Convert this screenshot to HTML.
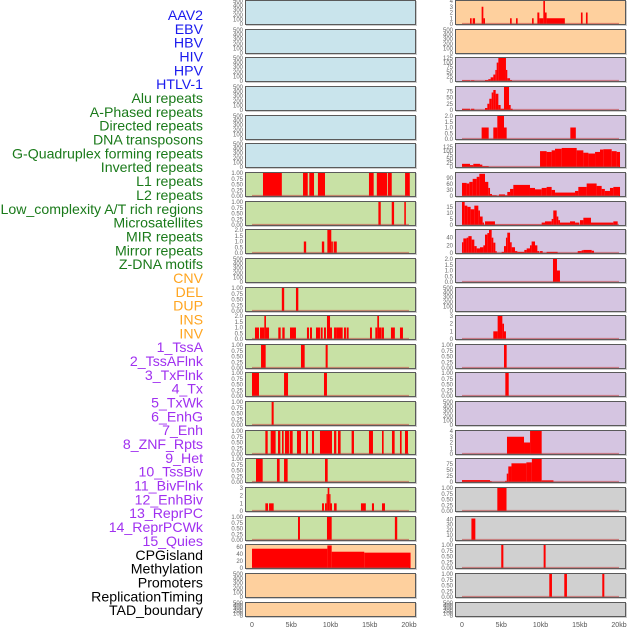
<!DOCTYPE html>
<html><head><meta charset="utf-8">
<style>
html,body{margin:0;padding:0;background:#fff;}
svg{display:block;}
.lab{font-family:"Liberation Sans",sans-serif;font-size:14.15px;text-anchor:end;}
.tk{font-family:"Liberation Sans",sans-serif;font-size:6px;fill:#666;text-anchor:end;}
.xt{font-family:"Liberation Sans",sans-serif;font-size:7px;fill:#555;text-anchor:middle;}
</style></head>
<body>
<svg id="chart" width="630" height="630" viewBox="0 0 630 630"></svg>
<script>
// ---------- data ----------
const trackNames = ["AAV2","EBV","HBV","HIV","HPV","HTLV-1","Alu repeats","A-Phased repeats","Directed repeats","DNA transposons","G-Quadruplex forming repeats","Inverted repeats","L1 repeats","L2 repeats","Low_complexity A/T rich regions","Microsatellites","MIR repeats","Mirror repeats","Z-DNA motifs","CNV","DEL","DUP","INS","INV","1_TssA","2_TssAFlnk","3_TxFlnk","4_Tx","5_TxWk","6_EnhG","7_Enh","8_ZNF_Rpts","9_Het","10_TssBiv","11_BivFlnk","12_EnhBiv","13_ReprPC","14_ReprPCWk","15_Quies","CPGisland","Methylation","Promoters","ReplicationTiming","TAD_boundary"];
const trackColors = ["#1a1aee","#1a1aee","#1a1aee","#1a1aee","#1a1aee","#1a1aee","#1a7a1a","#1a7a1a","#1a7a1a","#1a7a1a","#1a7a1a","#1a7a1a","#1a7a1a","#1a7a1a","#1a7a1a","#1a7a1a","#1a7a1a","#1a7a1a","#1a7a1a","#ffa520","#ffa520","#ffa520","#ffa520","#ffa520","#a030f0","#a030f0","#a030f0","#a030f0","#a030f0","#a030f0","#a030f0","#a030f0","#a030f0","#a030f0","#a030f0","#a030f0","#a030f0","#a030f0","#a030f0","#000","#000","#000","#000","#000"];
const xTickValues = [0,5,10,15,20];
const xTickLabels = ["0","5kb","10kb","15kb","20kb"];

// segments: [start_kb, end_kb, value]
const segEmpty = [];
const segL1 = [[1.4,3.8,1],[6.5,7.1,1],[7.3,7.9,1],[8.4,9.3,1],[14.9,15.5,1],[15.9,17.2,1],[17.3,17.8,1],[19.5,20.1,1]];
const segLowc = [[16.1,16.4,1],[17.8,18.1,1],[19.4,19.6,1]];
const segMir = [[6.6,6.9,1],[8.9,9.2,1],[9.6,10.1,2],[10.1,10.3,1],[10.4,10.8,1]];
const segZdna = [[3.8,4.1,1],[5.6,5.9,1]];
const segIns = [[0.38,0.89,1],[1.02,1.57,1],[1.57,1.78,2],[1.78,2.17,1],[3.35,3.65,1],[3.86,4.16,1],[4.84,5.6,1],[7.0,7.26,1],[7.39,7.64,1],[8.15,8.66,1],[8.75,9.0,1],[9.17,9.42,1],[9.55,9.94,2],[9.94,10.19,1],[10.45,10.78,1],[10.78,11.55,1],[11.72,11.97,1],[12.06,12.31,1],[15.03,15.28,1],[15.71,15.96,1],[15.96,16.18,2],[16.18,16.52,1],[16.56,16.81,1],[17.7,18.2,1],[18.85,19.23,1]];
const segTssA = [[1.15,1.74,1],[6.24,6.71,1],[9.38,9.64,1]];
const segTxFlnk = [[0,0.89,1],[4.08,4.59,1],[9.17,9.55,1]];
const segTxWk = [[2.5,2.76,1]];
const segEnh = [[1.7,2.0,1],[2.38,3.01,1],[3.31,3.61,1],[3.82,4.03,1],[4.2,4.71,1],[4.8,5.18,1],[5.73,6.24,1],[6.88,7.13,1],[7.64,7.9,1],[8.66,10.19,1],[10.45,10.74,1],[10.95,11.29,1],[12.69,12.99,1],[14.9,15.41,1],[16.56,16.77,1],[17.83,18.17,1],[18.85,19.06,1],[19.49,19.87,1]];
const segHet = [[0.51,1.36,1],[3.18,3.52,1],[4.08,4.54,1],[9.3,9.64,1]];
const segBivFlnk = [[1.7,2.04,1],[2.17,2.76,1],[8.92,9.17,1],[9.3,9.5,1],[9.5,9.64,2.2],[9.64,9.85,3],[9.85,10.0,2.2],[10.0,10.19,1],[10.45,10.78,1],[13.88,14.5,1],[15.28,15.54,1],[16.56,16.94,1]];
const segReprPC = [[5.86,6.11,1],[9.55,10.15,1],[18.2,18.5,1]];
const segCpg = [[0,9.6,54.5],[9.6,10.15,63.7],[10.15,14.3,46],[14.3,20.2,43.4]];
const segAav = [[1.02,1.23,1],[1.36,1.66,1],[2.5,2.72,3],[2.72,2.93,1],[6.12,6.33,1],[6.88,7.09,1],[8.92,9.13,1],[9.6,9.85,2],[9.85,10.36,1],[10.36,10.57,4],[10.57,10.78,2],[10.78,13.1,1],[15.15,15.36,2],[15.79,16.0,2]];
const segHiv = [[0,1.02,3],[1.15,1.57,3],[2.93,3.35,5],[3.35,3.65,10],[3.65,3.99,20],[3.99,4.25,35],[4.25,4.42,60],[4.42,4.63,100],[4.63,5.6,125],[5.6,5.77,60],[5.77,6.12,15],[6.12,6.37,5]];
const segAlu = [[0,1.02,5],[1.15,1.57,5],[2.93,3.23,8],[3.23,3.48,25],[3.48,3.78,45],[3.78,3.99,70],[3.99,4.29,80],[4.29,4.63,65],[4.63,4.92,20],[4.92,5.35,5],[5.35,5.99,92],[5.99,6.2,20],[6.2,6.45,5]];
const segDir = [[2.5,3.4,1],[3.99,4.5,1],[4.5,5.35,2],[5.35,5.69,1],[13.8,14.5,1]];
const segGq = [[0,1.02,20],[1.02,1.44,12],[1.44,2.29,20],[2.29,2.59,15],[2.59,3.4,5],[9.94,10.78,100],[10.78,11.42,95],[11.42,11.85,105],[11.85,12.7,115],[12.7,14.61,120],[14.61,15.46,105],[15.46,16.1,90],[16.1,16.95,85],[16.95,17.58,95],[17.58,18.0,110],[18.0,19.07,112],[19.07,19.7,100],[19.7,20.13,95]];
const segL2 = [[0,0.59,65],[0.59,0.93,62],[0.93,1.36,70],[1.36,1.87,85],[1.87,2.21,95],[2.21,2.93,110],[2.93,3.35,70],[3.35,3.57,40],[3.57,3.82,10],[3.82,4.42,3],[4.71,5.48,8],[5.48,5.77,3],[5.77,6.12,20],[6.12,6.54,35],[6.54,8.66,55],[8.66,9.3,40],[9.3,10.15,33],[10.15,10.78,40],[10.78,11.42,45],[11.42,11.85,30],[11.85,14.4,17],[14.4,14.82,25],[14.82,15.88,45],[15.88,17.15,62],[17.15,17.79,50],[17.79,18.2,35],[18.2,18.85,25],[18.85,19.28,40],[19.28,20.13,45]];
const segMicro = [[0,0.34,19],[0.34,0.68,16],[0.68,1.1,15],[1.1,1.57,13],[1.57,2.08,16],[2.08,2.29,12],[2.29,2.63,7],[2.63,2.8,2],[2.93,4.2,3],[4.2,10.15,0.3],[10.15,10.57,2],[10.57,11.42,3],[11.42,11.63,5],[11.63,12.06,12],[12.06,12.27,7],[12.27,12.48,4],[12.48,13.76,2],[13.76,14.4,3],[14.4,14.95,2],[15.03,15.46,4],[15.46,16.43,6],[16.43,19.28,2],[19.28,19.83,3]];
const segMirror = [[0,0.17,28],[0.17,0.59,38],[0.59,0.81,40],[0.81,1.23,44],[1.23,1.57,35],[1.57,1.87,18],[1.87,2.29,12],[2.29,2.72,15],[2.72,2.93,20],[2.93,3.23,48],[3.23,3.44,52],[3.44,3.78,60],[3.78,3.99,40],[3.99,4.25,27],[4.25,4.42,5],[5.05,5.35,3],[5.35,5.6,18],[5.6,5.77,40],[5.77,6.12,53],[6.12,6.33,28],[6.33,6.75,15],[6.75,7.05,5],[7.05,7.94,3],[7.94,8.24,8],[8.24,8.66,12],[8.66,8.87,20],[8.87,9.3,30],[9.3,9.6,20],[9.6,9.85,5],[9.94,10.28,5],[10.78,12.18,3],[14.74,15.24,5],[15.24,15.46,7],[15.46,16.52,8],[16.52,16.81,6]];
const segZ = [[11.59,12.1,2],[12.1,12.48,1]];
const segTssAFlnk = [[3.99,4.54,1],[4.54,5.14,3],[5.14,5.35,2],[5.35,5.6,1]];
const segTx = [[5.35,5.69,1]];
const segEnhG = [[5.52,5.95,1]];
const segZnf = [[5.73,7.9,3],[7.9,8.67,2],[8.67,10.15,4]];
const segTssBiv = [[0,3.57,8],[3.57,3.78,3],[5.5,5.7,5],[5.7,5.9,35],[5.9,6.3,65],[6.3,8.2,78],[8.2,8.9,82],[8.9,10.15,96],[10.15,11.65,7]];
const segEnhBiv = [[4.5,5.67,1]];
const segReprPCWk = [[1.2,1.7,42]];
const segQuies = [[5.0,5.27,1],[10.4,10.65,1]];
const segMeth = [[11.12,11.46,1],[13.03,13.37,1],[17.87,18.13,1]];

// tick sets
const tk500 = [0,100,200,300,400,500];
const tk1 = [0,0.25,0.5,0.75,1];
const tk2 = [0,0.5,1,1.5,2];
const tk3 = [0,1,2,3];
const tk4 = [0,1,2,3,4];

const BLUE="#c9e4ec", GREEN="#c8e1a5", PEACH="#fed09e", LAV="#d5c5e1", GRAY="#d0d0d0";
const leftPanels = [
 [segEmpty,500,tk500,0,BLUE],[segEmpty,500,tk500,0,BLUE],[segEmpty,500,tk500,0,BLUE],[segEmpty,500,tk500,0,BLUE],[segEmpty,500,tk500,0,BLUE],[segEmpty,500,tk500,0,BLUE],
 [segL1,1,tk1,2,GREEN],[segLowc,1,tk1,2,GREEN],[segMir,2,tk2,1,GREEN],[segEmpty,500,tk500,0,GREEN],[segZdna,1,tk1,2,GREEN],[segIns,2,tk2,1,GREEN],
 [segTssA,1,tk1,2,GREEN],[segTxFlnk,1,tk1,2,GREEN],[segTxWk,1,tk1,2,GREEN],[segEnh,1,tk1,2,GREEN],[segHet,1,tk1,2,GREEN],[segBivFlnk,3,tk3,0,GREEN],[segReprPC,1,tk1,2,GREEN],
 [segCpg,65,[0,20,40,60],0,PEACH],[segEmpty,500,tk500,0,PEACH],[segEmpty,500,tk500,0,PEACH]];
const rightPanels = [
 [segAav,4,tk4,0,PEACH],[segEmpty,500,tk500,0,PEACH],[segHiv,125,[0,25,50,75,100,125],0,LAV],[segAlu,92,[0,25,50,75],0,LAV],[segDir,2,tk2,1,LAV],[segGq,145,[0,25,50,75,100,125],0,LAV],
 [segL2,114,[0,30,60,90],0,LAV],[segMicro,19,[0,5,10,15],0,LAV],[segMirror,60,[0,20,40],0,LAV],[segZ,2,tk2,1,LAV],[segEmpty,500,tk500,0,LAV],[segTssAFlnk,3,tk3,0,LAV],
 [segTx,1,tk1,2,LAV],[segEnhG,1,tk1,2,LAV],[segEmpty,500,tk500,0,LAV],[segZnf,4,tk4,0,LAV],[segTssBiv,96,[0,25,50,75],0,LAV],[segEnhBiv,1,tk1,2,GRAY],
 [segReprPCWk,45,[0,10,20,30,40],0,GRAY],[segQuies,1,tk1,2,GRAY],[segMeth,1,tk1,2,GRAY],[segEmpty,500,tk500,0,GRAY]];

// ---------- drawing ----------
const NS="http://www.w3.org/2000/svg";
const svg=document.getElementById('chart');
function mk(tag,attrs,parent){const e=document.createElementNS(NS,tag);for(const k in attrs)e.setAttribute(k,attrs[k]);(parent||svg).appendChild(e);return e;}

trackNames.forEach((n,i)=>{
  const t=mk('text',{x:203,y:15+i*13.84+5,'class':'lab',fill:trackColors[i]});
  
  
  t.textContent=n;
});

function rowTop(r){return Math.round(r*28.65);}
function drawPanel(p,col,r){
  const [segs,max,ticks,dec,bg]=p;
  const px=col===0?245:455, pw=171;
  const top=rowTop(r), h=r===21?15:25;
  const x0=px+7, x1=px+164;
  const xs=v=>x0+(x1-x0)*v/20;
  const yb=top+h-1, yt=top+1;
  const ys=v=>yb-(yb-yt)*v/max;
  const g=mk('g',{});
  
  
  mk('rect',{x:px+1,y:top+1,width:pw,height:h,fill:'#9a9a9a',opacity:0.5},g);
  mk('rect',{x:px+0.5,y:top+0.5,width:pw-1,height:h-1,fill:bg,stroke:'#5a5a5a','stroke-width':1},g);
  segs.forEach(s=>{
    const b=mk('rect',{x:xs(s[0]),y:ys(s[2]),width:Math.max(xs(s[1])-xs(s[0]),1),height:yb-ys(s[2]),fill:'#ff0000'},g);
    
    
  });
  if(segs.length) mk('line',{x1:xs(0),x2:xs(20),y1:yb-0.5,y2:yb-0.5,stroke:'#c04040','stroke-width':1.2,opacity:0.55},g);
  ticks.forEach(v=>{
    const t=mk('text',{x:px-2,y:ys(v)+2,'class':'tk'},g);
    
    
    t.textContent=v.toFixed(dec);
  });
}
leftPanels.forEach((p,r)=>drawPanel(p,0,r));
rightPanels.forEach((p,r)=>drawPanel(p,1,r));

[245,455].forEach(px=>{
  xTickValues.forEach((v,i)=>{
    const t=mk('text',{x:px+7+157*v/20,y:627,'class':'xt'});
    
    
    t.textContent=xTickLabels[i];
  });
});
</script>
</body></html>
